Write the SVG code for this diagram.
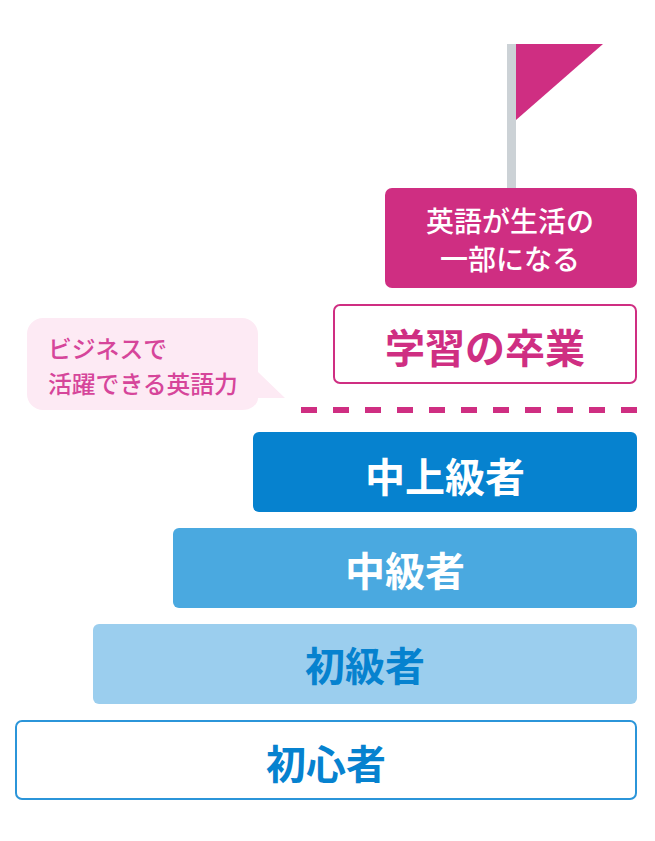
<svg xmlns="http://www.w3.org/2000/svg" width="655" height="841" viewBox="0 0 655 841">
<style>
text{font-family:"Noto Sans CJK JP",sans-serif;text-anchor:middle}
.t{font-size:40px;font-weight:700}
.w{fill:#fff}.b{fill:#0682cf}.m{fill:#cf2e82}
.s{font-size:28px;fill:#fff;font-weight:500}
.c{font-size:23.8px;fill:#d6459a;font-weight:500;text-anchor:start}
</style>
<rect width="655" height="841" fill="#fff"/>
<g id="flag"><rect x="507" y="44" width="9" height="144" fill="#ccd2d6"/><polygon points="516,44 603,44 516,120" fill="#cf2e82"/></g>
<g id="goal"><rect x="385" y="188" width="252" height="100" rx="7" fill="#cf2e82"/><text class="s" x="510" y="232">英語が生活の</text><text class="s" x="510" y="270">一部になる</text></g>
<g id="graduate"><rect x="334" y="305" width="302" height="78" rx="6" fill="#fff" stroke="#cf2e82" stroke-width="2"/><text class="t m" x="485" y="363">学習の卒業</text></g>
<g id="bubble"><path d="M43 318H242a16 16 0 0 1 16 16V372L285 398H258A16 12 0 0 1 242 410H43a16 16 0 0 1-16-16V334a16 16 0 0 1 16-16Z" fill="#fdeaf4"/><text class="c" x="48" y="358">ビジネスで</text><text class="c" x="48" y="393">活躍できる英語力</text></g>
<g id="connectors"><line x1="301" y1="410" x2="637" y2="410" stroke="#cf2e82" stroke-width="6" stroke-dasharray="16 16"/></g>
<g id="upper"><rect x="253" y="432" width="384" height="80" rx="6" fill="#0682cf"/><text class="t w" x="445" y="492">中上級者</text></g>
<g id="middle"><rect x="173" y="528" width="464" height="80" rx="6" fill="#4aa9e0"/><text class="t w" x="405" y="586">中級者</text></g>
<g id="elementary"><rect x="93" y="624" width="544" height="80" rx="6" fill="#9bceee"/><text class="t b" x="365" y="681">初級者</text></g>
<g id="beginner"><rect x="16" y="721" width="620" height="78" rx="6" fill="#fff" stroke="#2b95d9" stroke-width="2"/><text class="t b" x="326" y="779">初心者</text></g>
</svg>
